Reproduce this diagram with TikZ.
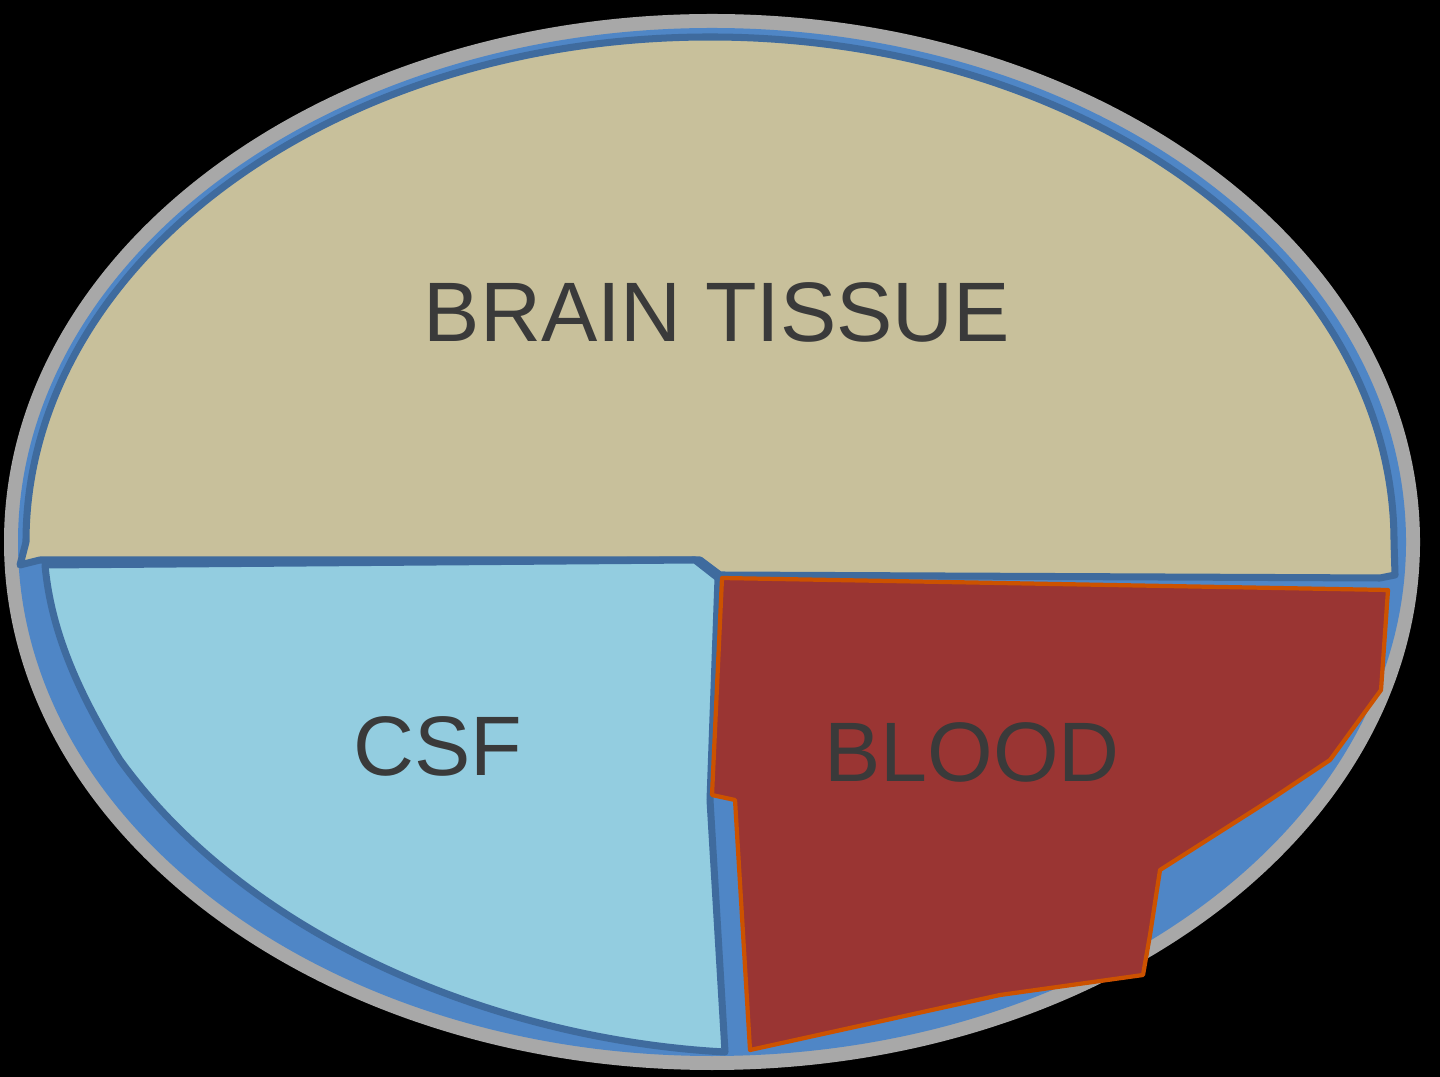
\documentclass[tikz,border=0pt]{standalone}
\usepackage{fontspec}
\setmainfont{Liberation Sans}
\definecolor{ring}{HTML}{A8A8A8}
\definecolor{rim}{HTML}{4F86C6}
\definecolor{tan}{HTML}{C8C09B}
\definecolor{csf}{HTML}{93CDE0}
\definecolor{blood}{HTML}{9A3533}
\definecolor{txt}{HTML}{3A3A3A}
\tikzset{lbl/.style={text=txt,font=\fontsize{24}{28}\selectfont},
 edge/.style={draw=rim!80!black,line width=2pt,line join=round}}
\begin{document}
\begin{tikzpicture}[x=0.01cm,y=-0.01cm]
\fill[black] (0,0) rectangle (1440,1077);
\useasboundingbox (0,0) rectangle (1440,1077);
\fill[ring] (712,542) ellipse [x radius=708,y radius=528];
\fill[rim] (712,542) ellipse [x radius=694,y radius=514];
% brain tissue
\path[fill=tan,edge] (20,565) -- (26,542) arc [start angle=180,end angle=360,x radius=684,y radius=505]
 -- (1395,575) -- (1380,578) -- (720,575) -- (700,560) -- (40,560) -- cycle;
% csf
\path[fill=csf,edge] (45,565) -- (695,560) -- (718,578) -- (710,800) -- (725,1052)
 .. controls (500,1040) and (250,940) .. (120,760) .. controls (70,680) and (50,620) .. (45,565) -- cycle;
% blood
\path[fill=blood,draw=orange!80!red!80!black,line width=1.2pt,line join=round] (722,578) -- (1388,590) -- (1381,690)
 -- (1330,760) -- (1270,800) -- (1160,870) -- (1150,935) -- (1143,975) -- (1000,995) -- (750,1050)
 -- (735,800) -- (712,795) -- cycle;
\node[lbl] (brain) at (717,312) {BRAIN TISSUE};
\node[lbl] (csfl) at (438,746) {CSF};
\node[lbl] (bloodl) at (972,752) {BLOOD};
\end{tikzpicture}
\end{document}
